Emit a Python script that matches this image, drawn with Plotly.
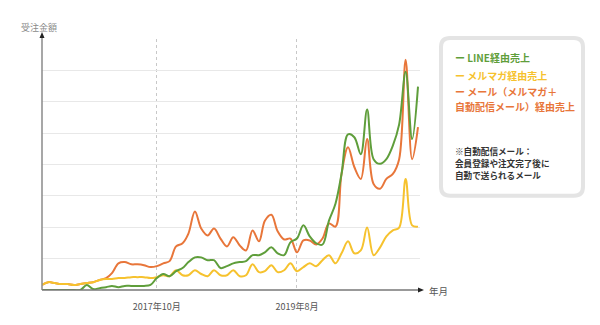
import pandas as pd
import plotly.graph_objects as go

months = pd.date_range("2016-04-01", "2021-03-01", freq="MS")

line_sales = [0, 0, 0, 0, 0, 0, 0, 1.6, 0.3, 0.6,
              0.9, 1.3, 0.9, 1.3, 1.3, 1.3, 1.3, 1.6, 3.8, 5.1,
              4.4, 6.0, 7.0, 8.9, 10.4, 10.4, 9.5, 9.5, 7.0, 7.6,
              8.5, 8.9, 9.2, 11.1, 11.1, 12.0, 13.6, 11.7, 11.1, 15.2,
              16.4, 20.6, 17.1, 14.9, 14.5, 22.1, 27.5, 37.0, 49.6, 48.7,
              43.3, 57.5, 41.7, 40.2, 41.7, 46.0, 52.8, 69.6, 48.1, 64.8]

mailmag_sales = [1.6, 2.5, 2.2, 1.9, 1.9, 1.6, 1.9, 2.2, 2.5, 3.2,
                 3.5, 3.5, 3.8, 3.8, 4.1, 4.1, 4.1, 3.8, 4.1, 4.7,
                 4.4, 6.3, 4.7, 4.7, 6.3, 5.1, 4.4, 6.3, 4.7, 4.7,
                 6.3, 4.4, 4.7, 8.2, 5.7, 6.0, 7.9, 5.7, 6.3, 8.5,
                 6.0, 7.3, 8.5, 7.6, 9.5, 11.1, 8.5, 11.7, 15.5, 11.7,
                 12.6, 19.9, 11.1, 13.6, 17.1, 19.0, 19.9, 35.4, 20.6, 20.2]

mail_sales = [1.6, 2.5, 2.2, 1.9, 1.9, 1.6, 1.9, 2.2, 2.5, 3.2,
              3.8, 5.4, 8.5, 8.9, 8.2, 8.2, 7.9, 7.3, 7.6, 8.5,
              9.2, 13.9, 14.9, 18.0, 25.0, 19.6, 17.4, 19.6, 16.4, 13.9,
              16.8, 14.2, 12.6, 19.0, 15.5, 22.1, 24.0, 18.7, 16.1, 16.4,
              12.0, 15.8, 15.8, 14.5, 16.4, 21.2, 20.2, 37.0, 45.5, 39.2,
              35.4, 48.1, 33.8, 32.3, 35.4, 37.0, 41.7, 73.4, 41.7, 51.9]

tick_dates = ["2017-10-01", "2019-08-01"]
tick_labels = ["2017年10月", "2019年8月"]

GREEN = "#5f9e3b"
YELLOW = "#f6c22e"
ORANGE = "#e8763a"
FONT = "Noto Sans CJK JP"

# plot area in pixels
L, R, T, B = 42, 420, 39, 292


def px(x):
    return (x - L) / (R - L)


def py(y):
    return (B - y) / (B - T)


fig = go.Figure()
fig.add_trace(go.Scatter(x=months, y=mail_sales, mode="lines",
                         line=dict(color=ORANGE, width=2, shape="spline", smoothing=1.0)))
fig.add_trace(go.Scatter(x=months, y=mailmag_sales, mode="lines",
                         line=dict(color=YELLOW, width=2, shape="spline", smoothing=1.0)))
fig.add_trace(go.Scatter(x=months, y=line_sales, mode="lines",
                         line=dict(color=GREEN, width=2, shape="spline", smoothing=1.0)))

x_end = months[-1] + pd.Timedelta(days=(R - 418) * (months[-1] - months[0]).days / (418 - L))

shapes = []
# axes
shapes.append(dict(type="line", xref="paper", yref="paper", x0=0, y0=0, x1=0, y1=py(36),
                   line=dict(color="#8a8a8a", width=1.5)))
shapes.append(dict(type="line", xref="paper", yref="paper", x0=0, y0=0, x1=px(419), y1=0,
                   line=dict(color="#777777", width=1.5)))
shapes.append(dict(type="path", xref="paper", yref="paper",
                   path=f"M {px(42)} {py(32)} L {px(39.5)} {py(38)} L {px(44.5)} {py(38)} Z",
                   fillcolor="#222222", line=dict(width=0)))
shapes.append(dict(type="path", xref="paper", yref="paper",
                   path=f"M {px(424)} {py(292)} L {px(418)} {py(289.5)} L {px(418)} {py(294.5)} Z",
                   fillcolor="#222222", line=dict(width=0)))

# legend box with rounded corners
bx0, bx1, by0, by1, r = 441, 583, 38, 197, 9
path = (f"M {px(bx0 + r)} {py(by0)} L {px(bx1 - r)} {py(by0)} "
        f"Q {px(bx1)} {py(by0)} {px(bx1)} {py(by0 + r)} "
        f"L {px(bx1)} {py(by1 - r)} Q {px(bx1)} {py(by1)} {px(bx1 - r)} {py(by1)} "
        f"L {px(bx0 + r)} {py(by1)} Q {px(bx0)} {py(by1)} {px(bx0)} {py(by1 - r)} "
        f"L {px(bx0)} {py(by0 + r)} Q {px(bx0)} {py(by0)} {px(bx0 + r)} {py(by0)} Z")
shapes.append(dict(type="path", xref="paper", yref="paper", path=path,
                   fillcolor="white", line=dict(color="#e4e4e4", width=4)))

annotations = []


def add_text(text, x, y, size, color, xanchor="left", bold=False):
    annotations.append(dict(text=f"<b>{text}</b>" if bold else text,
                            xref="paper", yref="paper", x=px(x), y=py(y),
                            xanchor=xanchor, yanchor="middle", showarrow=False,
                            font=dict(family=FONT, size=size, color=color)))


add_text("受注金額", 39, 27, 9, "#8a8a8a", xanchor="center")
add_text("年月", 438, 293, 9.5, "#555555", xanchor="center")

add_text("ー LINE経由売上", 453, 58, 10, GREEN, bold=True)
add_text("ー メルマガ経由売上", 453, 76, 10, YELLOW, bold=True)
add_text("ー メール（メルマガ＋", 453, 92, 10, ORANGE, bold=True)
add_text("自動配信メール）経由売上", 453, 107, 10, ORANGE, bold=True)

add_text("※自動配信メール：", 453, 152, 8.6, "#333333", bold=True)
add_text("会員登録や注文完了後に", 453, 164, 8.6, "#333333", bold=True)
add_text("自動で送られるメール", 453, 176, 8.6, "#333333", bold=True)

fig.update_layout(
    width=600, height=325,
    margin=dict(l=L, r=600 - R, t=T, b=325 - B),
    paper_bgcolor="white", plot_bgcolor="white",
    showlegend=False,
    font=dict(family=FONT),
    shapes=shapes,
    annotations=annotations,
    xaxis=dict(range=[months[0], x_end], tickvals=tick_dates, ticktext=tick_labels,
               showgrid=True, gridcolor="#c8c8c8", griddash="dot", gridwidth=1,
               ticks="outside", ticklen=8, tickcolor="rgba(0,0,0,0)",
               tickfont=dict(family=FONT, size=9, color="#555555"),
               showline=False, zeroline=False, fixedrange=True),
    yaxis=dict(range=[0, 80], tickvals=[10, 20, 30, 40, 50, 60, 70, 80],
               showticklabels=False, showgrid=True, gridcolor="#e8e8e8", gridwidth=1,
               showline=False, zeroline=False, fixedrange=True),
)

fig.write_html("out.html", config={"displayModeBar": False})
